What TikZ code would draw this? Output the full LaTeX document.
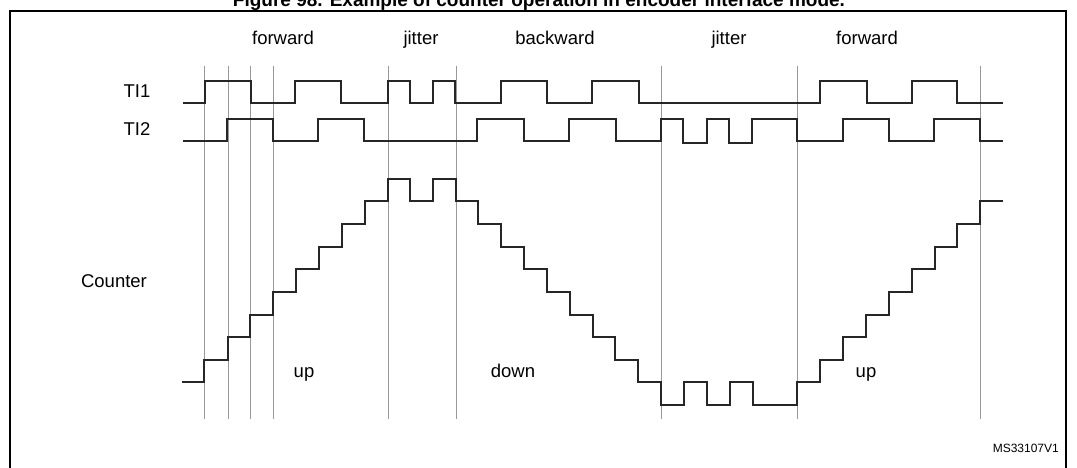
\documentclass[tikz,border=0pt]{standalone}
\usepackage{fontspec}
\setmainfont{Liberation Sans}
\begin{document}
\begin{tikzpicture}[x=1pt,y=-1pt,
  sig/.style={line width=1.1pt,black!85},
  grid/.style={line width=0.7pt,black!40},
  lbl/.style={font=\fontsize{18.5}{22}\selectfont,inner sep=0pt,anchor=base},
  frame/.style={line width=1.3pt}]
\useasboundingbox (0,0) rectangle (1077,468);
\node[font=\bfseries\fontsize{19}{22}\selectfont,inner sep=0pt,anchor=base] (title) at (539,7) {Figure 98. Example of counter operation in encoder interface mode.};
\draw[frame] (10,480) -- (10,11) -- (1066,11) -- (1066,480);
\foreach \x in {204,228,250,273,388,456,661,797,980}
  \draw[grid] (\x,66) -- (\x,419);
\node[lbl] (f1) at (283,45) {forward};
\node[lbl] (j1) at (421,45) {jitter};
\node[lbl] (b1) at (555,45) {backward};
\node[lbl] (j2) at (729,45) {jitter};
\node[lbl] (f2) at (867,45) {forward};
\node[lbl] (ti1) at (137,98) {TI1};
\node[lbl] (ti2) at (137,136) {TI2};
\node[lbl] (cnt) at (114,287) {Counter};
\node[lbl] (u1) at (304,377) {up};
\node[lbl] (d1) at (513,377) {down};
\node[lbl] (u2) at (866,377) {up};
\node[font=\fontsize{12}{14}\selectfont,inner sep=0pt,anchor=base east] (ms) at (1059,452) {MS33107V1};
% TI1
\draw[sig] (183,103) -- (205,103) |- (251,81) |- (295,103) |- (341,81) |- (388,103) |- (410,81) |- (433,103) |- (455,81) |- (501,103) |- (547,81) |- (592,103) |- (639,81) |- (820,103) |- (867,81) |- (912,103) |- (957,81) |- (1003,103);
% TI2
\draw[sig] (183,141) -- (227,141) |- (273,119) |- (318,141) |- (364,119) |- (477,141) |- (524,119) |- (569,141) |- (616,119) |- (661,141) |- (683,119) |- (707,143) |- (729,119) |- (752,143) |- (797,119) |- (843,141) |- (889,119) |- (934,141) |- (980,119) |- (1003,141);
% Counter
\draw[sig] (182,382) -- (204,382) |- (228,360) |- (250,337) |- (273,315) |- (296,292) |- (319,269) |- (342,247) |- (365,224) |- (388,201)
  |- (410,179) |- (433,201) |- (456,179) |- (478,201) |- (501,224) |- (524,247) |- (547,269) |- (570,292) |- (593,315) |- (615,337) |- (638,360) |- (661,382)
  |- (684,405) |- (707,382) |- (730,405) |- (753,382) |- (797,405) |- (820,382) |- (843,360) |- (866,337) |- (889,315) |- (912,292) |- (935,269) |- (957,247) |- (980,224) |- (1003,201);
\end{tikzpicture}
\end{document}
